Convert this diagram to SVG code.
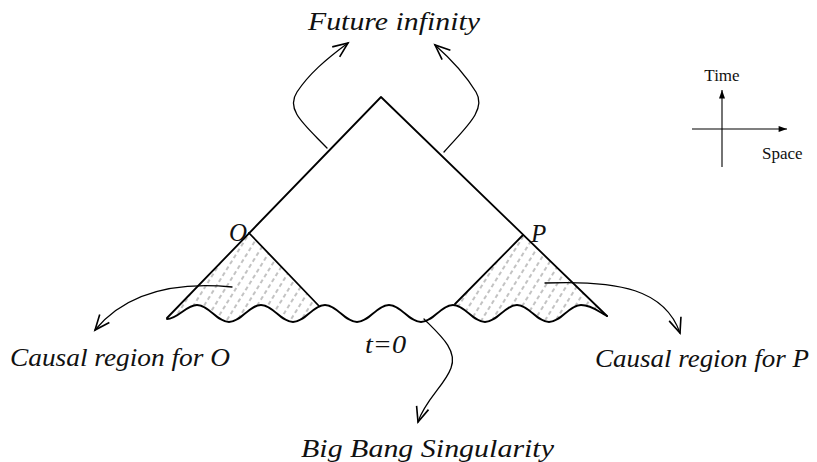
<svg xmlns="http://www.w3.org/2000/svg" width="817" height="462" viewBox="0 0 817 462">
<style>
.ln{fill:none;stroke:#000;stroke-width:1.8;stroke-linecap:round;stroke-linejoin:round}
.ar{fill:none;stroke:#000;stroke-width:1.3;stroke-linecap:round}
.it{font-family:"Liberation Serif","Times New Roman",serif;font-style:italic;font-size:25px;fill:#111}
.up{font-family:"Liberation Serif","Times New Roman",serif;font-size:17px;fill:#111}
</style>
<defs>
<marker id="ah" markerUnits="userSpaceOnUse" markerWidth="20" markerHeight="20" refX="0" refY="0" viewBox="-14 -8 16 16" orient="auto" overflow="visible">
<path d="M -12 -5 L 0 0 L -12 5" fill="none" stroke="#000" stroke-width="1.3"/>
</marker>
<marker id="ax" markerUnits="userSpaceOnUse" markerWidth="12" markerHeight="12" refX="0" refY="0" viewBox="-8 -4 10 8" orient="auto" overflow="visible">
<path d="M -7 -2.5 L 0 0 L -7 2.5 Z" fill="#000"/>
</marker>
<pattern id="hatch" width="9" height="7" patternUnits="userSpaceOnUse" patternTransform="rotate(32)">
<line x1="2" y1="0" x2="2" y2="7" stroke="#777" stroke-width="0.9" stroke-dasharray="4 3"/>
</pattern>
<path id="wave" d="M167,319 C178,319 186,305 197,305 C209,305 217,322 229,322 C241,322 249,305 261,305 C273,305 281,322 293,322 C305,322 313,305 325,305 C337,305 345,322 357,322 C369,322 377,305 389,305 C401,305 409,322 421,322 C433,322 441,305 453,305 C465,305 473,322 485,322 C497,322 505,305 517,305 C529,305 537,322 549,322 C561,322 569,305 581,305 C592,305 599,312 607,316"/>
<mask id="mL" maskUnits="userSpaceOnUse" x="0" y="0" width="817" height="462">
<polygon points="249,233 167,318 160,340 335,340 319,306" fill="#fff"/>
<path d="M167,319 C178,319 186,305 197,305 C209,305 217,322 229,322 C241,322 249,305 261,305 C273,305 281,322 293,322 C305,322 313,305 325,305 C337,305 345,322 357,322 L357,345 L150,345 Z" fill="#000"/>
</mask>
<mask id="mR" maskUnits="userSpaceOnUse" x="0" y="0" width="817" height="462">
<polygon points="523,235 455,304 440,340 620,340 607,316" fill="#fff"/>
<path d="M421,322 C433,322 441,305 453,305 C465,305 473,322 485,322 C497,322 505,305 517,305 C529,305 537,322 549,322 C561,322 569,305 581,305 C592,305 599,312 607,316 L620,318 L620,345 L421,345 Z" fill="#000"/>
</mask>
</defs>
<rect width="817" height="462" fill="#fff"/>

<g id="region-O">
<rect x="150" y="225" width="190" height="110" fill="url(#hatch)" mask="url(#mL)"/>
</g>
<g id="region-P">
<rect x="440" y="225" width="180" height="110" fill="url(#hatch)" mask="url(#mR)"/>
</g>

<g id="spacetime">
<polyline class="ln" points="167,318 381,97 607,316"/>
<line class="ln" x1="249" y1="233" x2="319" y2="306"/>
<line class="ln" x1="523" y1="235" x2="455" y2="304"/>
<use href="#wave" class="ln"/>
</g>

<g id="axes">
<line x1="722" y1="167" x2="722" y2="90" stroke="#000" stroke-width="1.1" marker-end="url(#ax)"/>
<line x1="692" y1="129" x2="787" y2="129" stroke="#000" stroke-width="1.1" marker-end="url(#ax)"/>
</g>

<g id="connectors">
<path class="ar" d="M327,148 C305,125 285,110 297,92 C309,74 325,60 348,43" marker-end="url(#ah)"/>
<path class="ar" d="M444,152 C465,128 487,110 476,92 C465,74 452,60 435,45" marker-end="url(#ah)"/>
<path class="ar" d="M232,287 C180,282 128,290 95,330" marker-end="url(#ah)"/>
<path class="ar" d="M545,283 C620,280 665,290 680,333" marker-end="url(#ah)"/>
<path class="ar" d="M424,319 C440,335 458,350 451,368 C445,385 425,400 418,422" marker-end="url(#ah)"/>
</g>

<g id="labels">
<text class="it" x="308" y="30" textLength="172" lengthAdjust="spacingAndGlyphs">Future infinity</text>
<text class="it" x="229" y="241">O</text>
<text class="it" x="531" y="242">P</text>
<text class="it" x="10" y="366" textLength="220" lengthAdjust="spacingAndGlyphs">Causal region for O</text>
<text class="it" x="365" y="353" textLength="41" lengthAdjust="spacingAndGlyphs">t=0</text>
<text class="it" x="595" y="367" textLength="214" lengthAdjust="spacingAndGlyphs">Causal region for P</text>
<text class="it" x="301" y="457" textLength="253" lengthAdjust="spacingAndGlyphs">Big Bang Singularity</text>
<text class="up" x="722" y="81" text-anchor="middle">Time</text>
<text class="up" x="762" y="159">Space</text>
</g>
</svg>
